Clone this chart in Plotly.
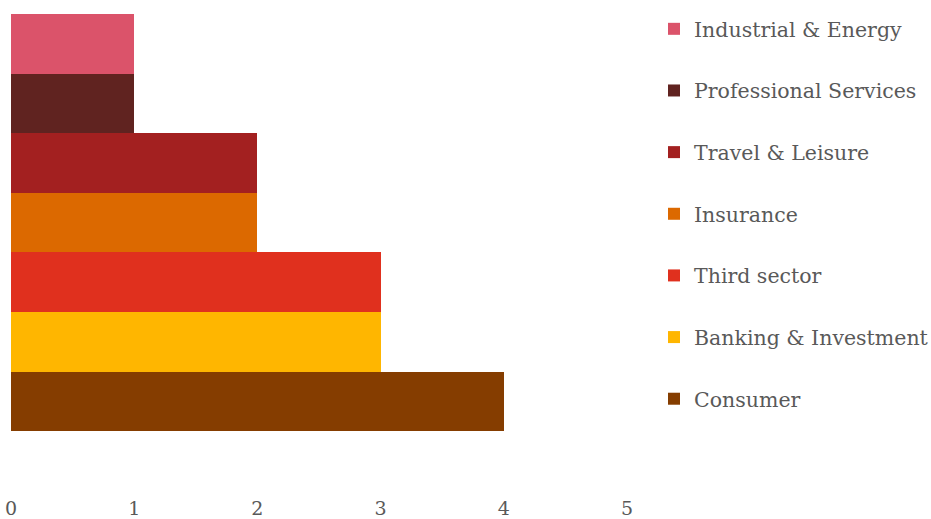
import plotly.graph_objects as go

categories = ["Industrial & Energy", "Professional Services", "Travel & Leisure",
              "Insurance", "Third sector", "Banking & Investment", "Consumer"]
values = [1, 1, 2, 2, 3, 3, 4]
colors = ["#db536a", "#602320", "#a32020", "#dc6900", "#e0301e", "#ffb600", "#853d00"]
tick_vals = [0, 1, 2, 3, 4, 5]

n = len(categories)
fig = go.Figure()
for i, (cat, val, col) in enumerate(zip(categories, values, colors)):
    fig.add_trace(go.Bar(
        x=[val], y=[n - 1 - i], orientation="h", width=1,
        name=cat, legendgroup=cat, marker=dict(color=col, line=dict(width=0)),
    ))

W, H = 931, 519
ml, mt, mb = 11, 0, 24
pw, ph = W - ml, H - mt - mb
fig.update_layout(
    width=W, height=H,
    margin=dict(l=ml, r=0, t=mt, b=mb, autoexpand=False),
    plot_bgcolor="white", paper_bgcolor="white",
    barmode="overlay", bargap=0,
    font=dict(family="DejaVu Serif", color="#595959", size=20),
    xaxis=dict(range=[0, 5], domain=[0, 616 / pw], tickvals=tick_vals, showgrid=False,
               zeroline=False, showline=False, ticks="", automargin=False,
               tickfont=dict(size=19, color="#595959")),
    yaxis=dict(range=[-1.57, n - 0.5], domain=[0, 481 / ph], showgrid=False,
               zeroline=False, showline=False, showticklabels=False, ticks="",
               automargin=False),
    legend=dict(x=(654 - ml) / pw, xanchor="left", y=1 - 9 / ph, yanchor="top",
                tracegroupgap=32, font=dict(size=20.5, color="#595959"),
                bgcolor="rgba(0,0,0,0)", maxheight=H),
    showlegend=True,
)
fig.write_html("out.html")
